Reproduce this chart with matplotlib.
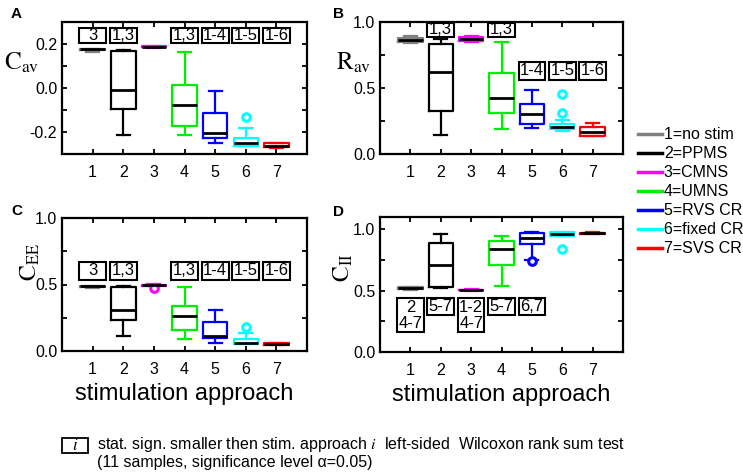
import numpy as np
import matplotlib.pyplot as plt
from matplotlib.patches import Rectangle
from matplotlib.lines import Line2D

plt.rcParams['font.family'] = ['Liberation Sans', 'DejaVu Sans']
plt.rcParams['mathtext.fontset'] = 'stix'

approaches = [1, 2, 3, 4, 5, 6, 7]
legend_labels = ['1=no stim', '2=PPMS', '3=CMNS', '4=UMNS', '5=RVS CR', '6=fixed CR', '7=SVS CR']
colors = ['#808080', '#000000', '#ff00ff', '#00ee00', '#0000ff', '#00ffff', '#ff0000']

# panel A: C_av
cav_lo = [0.163, -0.213, 0.184, -0.213, -0.248, -0.263, -0.272]
cav_q1 = [0.172, -0.096, 0.185, -0.171, -0.228, -0.263, -0.268]
cav_med = [0.176, -0.007, 0.188, -0.075, -0.205, -0.250, -0.262]
cav_q3 = [0.178, 0.167, 0.190, 0.012, -0.115, -0.228, -0.250]
cav_hi = [0.179, 0.173, 0.191, 0.165, -0.015, -0.183, -0.250]
cav_fl = [[], [], [], [], [], [-0.131], []]
cav_sig = ['3', '1,3', '', '1,3', '1-4', '1-5', '1-6']

# panel B: R_av
rav_lo = [0.838, 0.144, 0.850, 0.187, 0.197, 0.172, 0.134]
rav_q1 = [0.846, 0.328, 0.854, 0.308, 0.225, 0.192, 0.136]
rav_med = [0.864, 0.624, 0.871, 0.422, 0.303, 0.207, 0.164]
rav_q3 = [0.881, 0.833, 0.889, 0.616, 0.381, 0.225, 0.202]
rav_hi = [0.894, 0.869, 0.893, 0.851, 0.482, 0.258, 0.232]
rav_fl = [[], [], [], [], [], [0.308, 0.452], []]
rav_sig = ['', '1,3', '', '1,3', '1-4', '1-5', '1-6']

# panel C: C_EE
cee_lo = [0.475, 0.115, 0.490, 0.090, 0.063, 0.050, 0.045]
cee_q1 = [0.478, 0.233, 0.492, 0.158, 0.100, 0.050, 0.047]
cee_med = [0.485, 0.308, 0.496, 0.263, 0.113, 0.063, 0.053]
cee_q3 = [0.490, 0.479, 0.500, 0.338, 0.220, 0.088, 0.060]
cee_hi = [0.492, 0.489, 0.502, 0.479, 0.308, 0.133, 0.062]
cee_fl = [[], [], [0.475], [], [], [0.183], []]
cee_sig = ['3', '1,3', '', '1,3', '1-4', '1-5', '1-6']

# panel D: C_II
cii_lo = [0.508, 0.519, 0.500, 0.538, 0.750, 0.945, 0.960]
cii_q1 = [0.512, 0.527, 0.503, 0.709, 0.878, 0.948, 0.962]
cii_med = [0.519, 0.709, 0.505, 0.839, 0.932, 0.961, 0.967]
cii_q3 = [0.526, 0.886, 0.508, 0.904, 0.967, 0.975, 0.973]
cii_hi = [0.530, 0.959, 0.510, 0.945, 0.975, 0.978, 0.975]
cii_fl = [[], [], [], [], [0.742], [0.837], []]
cii_sig = ['2\n4-7', '5-7', '1-2\n4-7', '5-7', '6,7', '', '']

W, H = 743, 474
fig = plt.figure(figsize=(W / 100, H / 100), dpi=100)


def px(l, t, r, b):
    return [l / W, 1 - b / H, (r - l) / W, (b - t) / H]


def panel(rect, lo, q1, med, q3, hi, fl, ylim, major, minor, fmt):
    ax = fig.add_axes(rect)
    stats = []
    for i in range(len(approaches)):
        stats.append(dict(med=med[i], q1=q1[i], q3=q3[i], whislo=lo[i],
                          whishi=hi[i], fliers=fl[i]))
    art = ax.bxp(stats, positions=approaches, widths=0.8, capwidths=0.42,
                 medianprops=dict(color='black', lw=2.0),
                 boxprops=dict(lw=1.6), whiskerprops=dict(lw=1.6),
                 capprops=dict(lw=1.6),
                 flierprops=dict(marker='o', ms=5.5, mfc='white', mew=2.2))
    for i, c in enumerate(colors):
        art['boxes'][i].set_color(c)
        for k in (2 * i, 2 * i + 1):
            art['whiskers'][k].set_color(c)
            art['caps'][k].set_color(c)
        art['fliers'][i].set_markeredgecolor(c)
    ax.set_xlim(0, 8)
    ax.set_ylim(*ylim)
    ax.set_xticks(approaches)
    ax.set_xticklabels([str(a) for a in approaches])
    ax.set_yticks(major)
    ax.set_yticklabels([fmt % v for v in major])
    ax.set_yticks(minor, minor=True)
    ax.tick_params(which='both', direction='in', top=True, right=True,
                   length=3.5, width=1.3, labelsize=11.5)
    ax.tick_params(axis='x', pad=8)
    ax.tick_params(axis='y', pad=3.5)
    for s in ax.spines.values():
        s.set_linewidth(1.6)
    return ax


def sig_boxes(ax, labels, bottoms, tops):
    for x, lab, b, t in zip(approaches, labels, bottoms, tops):
        if not lab:
            continue
        ax.add_patch(Rectangle((x - 0.44, b), 0.88, t - b, facecolor='white',
                               edgecolor='black', lw=1.5, zorder=5, clip_on=False))
        ax.text(x, (b + t) / 2, lab, ha='center', va='center', fontsize=12,
                linespacing=1.05, zorder=6)


axA = panel(px(62, 22, 307, 154), cav_lo, cav_q1, cav_med, cav_q3, cav_hi, cav_fl,
            (-0.3, 0.3), [-0.2, 0.0, 0.2], np.arange(-0.3, 0.31, 0.1), '%.1f')
sig_boxes(axA, cav_sig, [0.203] * 7, [0.271] * 7)

axB = panel(px(380, 22, 623, 154), rav_lo, rav_q1, rav_med, rav_q3, rav_hi, rav_fl,
            (0, 1.0), [0.0, 0.5, 1.0], [0.25, 0.75], '%.1f')
sig_boxes(axB, rav_sig, [0.889, 0.889, 0.889, 0.889, 0.561, 0.561, 0.561],
          [0.99, 0.99, 0.99, 0.99, 0.697, 0.697, 0.697])

axC = panel(px(62, 218, 307, 351), cee_lo, cee_q1, cee_med, cee_q3, cee_hi, cee_fl,
            (0, 1.0), [0.0, 0.5, 1.0], [0.25, 0.75], '%.1f')
sig_boxes(axC, cee_sig, [0.534] * 7, [0.671] * 7)

axD = panel(px(380, 217, 623, 352), cii_lo, cii_q1, cii_med, cii_q3, cii_hi, cii_fl,
            (0, 1.1), [0.0, 0.5, 1.0], [0.25, 0.75], '%.1f')
sig_boxes(axD, cii_sig, [0.16, 0.301, 0.16, 0.301, 0.301, 0.301, 0.301], [0.4375] * 7)

for ax in (axC, axD):
    ax.set_xlabel('stimulation approach', fontsize=17, labelpad=4)

# y labels
fig.text(4 / W, 1 - 63 / H, r'$\mathrm{C}_{\mathrm{av}}$', fontsize=18, ha='left', va='center')
fig.text(336 / W, 1 - 63 / H, r'$\mathrm{R}_{\mathrm{av}}$', fontsize=18, ha='left', va='center')
fig.text(30 / W, 1 - 262 / H, r'$\mathrm{C}_{\mathrm{EE}}$', fontsize=17, ha='center',
         va='center', rotation=90)
fig.text(343 / W, 1 - 268 / H, r'$\mathrm{C}_{\mathrm{II}}$', fontsize=17, ha='center',
         va='center', rotation=90)

# panel letters
for lab, x, y in (('A', 16, 14), ('B', 338, 14), ('C', 17, 211), ('D', 338, 212)):
    fig.text(x / W, 1 - y / H, lab, fontsize=11, fontweight='bold', ha='center', va='center')

# legend
handles = [Line2D([], [], color=c, lw=2.5) for c in colors]
fig.legend(handles, legend_labels, loc='upper left', bbox_to_anchor=(632 / W, 1 - 121 / H),
           frameon=False, fontsize=11.5, handlelength=1.5, handletextpad=0.1,
           labelspacing=0.25, borderaxespad=0)

# footnote
fig.patches.append(Rectangle((62 / W, 1 - 453 / H), 26 / W, 15 / H, transform=fig.transFigure,
                             facecolor='white', edgecolor='black', lw=1.3))
fnt = ['Liberation Sans Narrow', 'Liberation Sans']
fig.text(75 / W, 1 - 445.5 / H, r'$\mathit{i}$', fontsize=12, ha='center', va='center')
fig.text(97 / W, 1 - 445 / H,
         r'stat. sign. smaller then stim. approach $\mathit{i}$  left-sided  Wilcoxon rank sum test',
         fontsize=11.5, family=fnt, ha='left', va='center')
fig.text(97 / W, 1 - 463 / H, '(11 samples, significance level \u03b1=0.05)',
         fontsize=11.5, family=fnt, ha='left', va='center')

fig.savefig('out.png', dpi=100)
